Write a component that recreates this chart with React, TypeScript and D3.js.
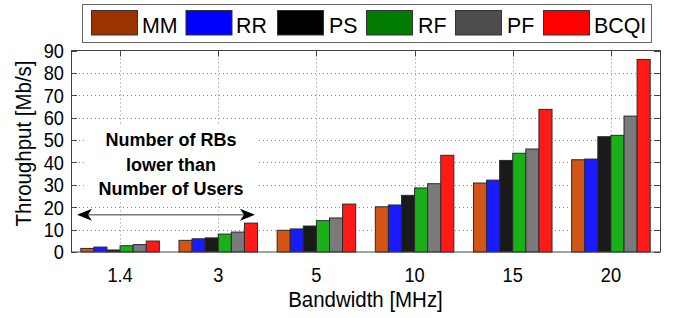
import React from "react";
import * as d3 from "d3";

const categories = ["1.4", "3", "5", "10", "15", "20"];
const seriesNames = ["MM", "RR", "PS", "RF", "PF", "BCQI"];
const MM = [1.6, 5.2, 9.7, 20.2, 30.8, 41.2];
const RR = [2.2, 5.9, 10.3, 21.0, 32.1, 41.5];
const PS = [0.9, 6.3, 11.6, 25.3, 40.9, 51.5];
const RF = [2.8, 8.0, 14.0, 28.6, 44.1, 52.1];
const PF = [3.3, 8.9, 15.2, 30.5, 46.0, 60.7];
const BCQI = [4.9, 12.9, 21.4, 43.2, 63.7, 86.0];
const seriesValues = [MM, RR, PS, RF, PF, BCQI];
const yTicks = [0, 10, 20, 30, 40, 50, 60, 70, 80, 90];
const barColors = ["#d25416", "#1a1aff", "#1a1a1a", "#1ab01a", "#7a7a7a", "#ff1a1a"];
const legendColors = ["#993300", "#0000ff", "#000000", "#007a00", "#4d4d4d", "#ff0000"];
const annotationLines = ["Number of RBs", "lower than", "Number of Users"];
const arrowValue = 16.6;

const W = 676, H = 318;
const L = 71, R = 660, T = 50.5, B = 252;
const FONT = "'Liberation Sans', Arial, Helvetica, sans-serif";
const SX = 0.89;

export default function App() {
  const x0 = d3.scaleBand<string>().domain(categories).range([L, R]).paddingInner(0.2).paddingOuter(0.1);
  const x1 = d3.scaleBand<string>().domain(seriesNames).range([0, x0.bandwidth()]).padding(0);
  const y = d3.scaleLinear().domain([0, 90]).range([B, T]);
  const centers = categories.map((c) => (x0(c) as number) + x0.bandwidth() / 2);

  const legendItems = [
    { sx: 91.5, tx: 142 },
    { sx: 186, tx: 236 },
    { sx: 277.5, tx: 329 },
    { sx: 366.5, tx: 418 },
    { sx: 455.5, tx: 507 },
    { sx: 543.5, tx: 594 },
  ];

  const ay = y(arrowValue);
  const aL = 77, aR = 255;
  return (
    <svg width={W} height={H} style={{ position: "absolute", left: 0, top: 0, background: "#fff" }} fontFamily={FONT}>
      <rect x={0} y={0} width={W} height={H} fill="#fff" />
      {/* grid */}
      <g stroke="#8a8a8a" strokeWidth={1} strokeDasharray="1,3">
        {yTicks.slice(1, -1).map((t) => (
          <line key={"gy" + t} x1={L} x2={R} y1={Math.round(y(t)) + 0.5} y2={Math.round(y(t)) + 0.5} />
        ))}
        {centers.map((c, i) => (
          <line key={"gx" + i} x1={Math.round(c) + 0.5} x2={Math.round(c) + 0.5} y1={T} y2={B} />
        ))}
      </g>
      {/* annotation */}
      <rect x={86} y={126} width={171} height={73} fill="#fff" />
      <g fontWeight="bold" fontSize={18} textAnchor="middle" fill="#000">
        {annotationLines.map((s, i) => (
          <text key={s} x={171} y={146 + i * 24.5}>{s}</text>
        ))}
      </g>
      <line x1={aL + 8} x2={aR - 8} y1={ay} y2={ay} stroke="#7a7a7a" strokeWidth={1.5} />
      <path d={`M${aL},${ay} L${aL + 15},${ay - 6} L${aL + 11},${ay} L${aL + 15},${ay + 6} Z`} fill="#000" />
      <path d={`M${aR},${ay} L${aR - 15},${ay - 6} L${aR - 11},${ay} L${aR - 15},${ay + 6} Z`} fill="#000" />
      {/* bars */}
      {categories.map((c, ci) => (
        <g key={c} transform={`translate(${x0(c)},0)`}>
          {seriesNames.map((s, si) => {
            const v = seriesValues[si][ci];
            return (
              <rect
                key={s}
                x={x1(s)}
                y={y(v)}
                width={x1.bandwidth()}
                height={B - y(v)}
                fill={barColors[si]}
                stroke="#2a2a2a"
                strokeWidth={1}
              />
            );
          })}
        </g>
      ))}
      {/* axes box */}
      <rect x={L + 0.5} y={T} width={R - L} height={B - T} fill="none" stroke="#444" strokeWidth={1} />
      <g stroke="#444" strokeWidth={1}>
        {yTicks.map((t) => (
          <g key={"t" + t}>
            <line x1={L} x2={L + 6} y1={Math.round(y(t)) + 0.5} y2={Math.round(y(t)) + 0.5} />
            <line x1={R - 6} x2={R} y1={Math.round(y(t)) + 0.5} y2={Math.round(y(t)) + 0.5} />
          </g>
        ))}
        {centers.map((c, i) => (
          <line key={"tx" + i} x1={Math.round(c) + 0.5} x2={Math.round(c) + 0.5} y1={T} y2={T + 6} />
        ))}
      </g>
      {/* tick labels */}
      <g fontSize={20.5} fill="#000">
        {yTicks.map((t) => (
          <text key={"yl" + t} transform={`translate(64,${y(t)}) scale(${SX},1)`} dy="0.36em" textAnchor="end">{t}</text>
        ))}
        {categories.map((c, i) => (
          <text key={"xl" + c} transform={`translate(${centers[i]},281.5) scale(${SX},1)`} textAnchor="middle">{c}</text>
        ))}
      </g>
      <text transform={`translate(${(L + R) / 2},307) scale(0.93,1)`} textAnchor="middle" fontSize={22} fill="#000">Bandwidth [MHz]</text>
      <text transform={`translate(31,143.5) rotate(-90) scale(0.93,1)`} textAnchor="middle" fontSize={22} fill="#000">Throughput [Mb/s]</text>
      {/* legend */}
      <rect x={82.5} y={4.5} width={569} height={38} fill="#fff" stroke="#666" strokeWidth={1} />
      {seriesNames.map((s, i) => (
        <g key={"lg" + s}>
          <rect x={legendItems[i].sx} y={10.5} width={46} height={24.5} fill={legendColors[i]} stroke="#333" strokeWidth={1} />
          <text transform={`translate(${legendItems[i].tx},33) scale(0.93,1)`} fontSize={23} fill="#000">{s}</text>
        </g>
      ))}
    </svg>
  );
}
